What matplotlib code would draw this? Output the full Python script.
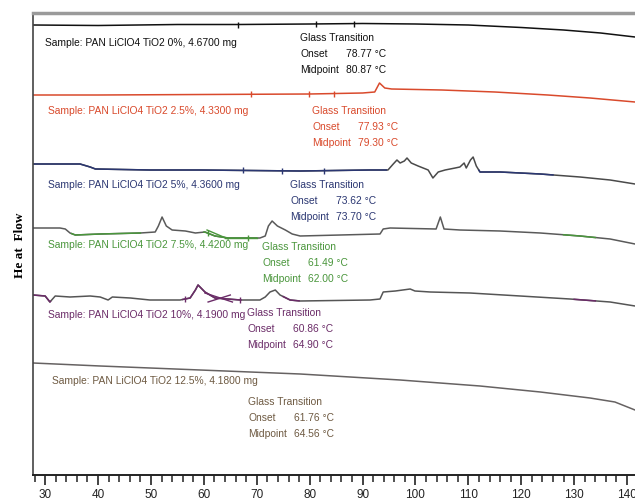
import numpy as np
import matplotlib.pyplot as plt

plt.rcParams['font.family'] = ['Liberation Sans', 'DejaVu Sans']

# DSC heat flow traces (temperature in degC, stacked heat flow in arbitrary units)
t_0 = [27.7, 40, 55, 66.4, 80, 90, 100, 110, 120, 128, 135, 141.5]
hf_0 = [450, 449.5, 450.5, 450.5, 451, 451.5, 451, 450, 447.5, 445, 442, 438]

t_25 = [27.7, 40, 60, 80, 90, 92.3, 93.2, 94.2, 95.5, 105, 115, 125, 133, 141.5]
hf_25 = [380, 380, 380.5, 381, 382, 383, 392, 387, 386, 385, 383, 380, 377, 373]

t_5 = [27.7, 36.6, 38.5, 39.5, 49.8, 59.3, 78.2, 91.4, 94.8, 95.8, 96.5, 97.1, 97.9,
       98.4, 99.2, 100.5, 102.4, 103.3, 104.3, 105.6, 107.5, 108.4, 109.2, 109.6,
       110.4, 110.9, 111.5, 112.2, 116.0, 123.6, 131.1, 136.8, 141.5]
hf_5 = [311, 311, 308, 306, 305, 305, 304, 305, 305, 311, 315, 312, 314, 317, 312,
        309, 305, 297, 303, 305, 307, 308, 312, 307, 315, 318, 309, 303, 303, 301,
        298, 295, 291]

t_75 = [27.7, 32.8, 33.8, 34.7, 35.7, 40.4, 48.0, 50.8, 51.4, 52.1, 52.9, 54.0, 56.5,
        58.4, 60.2, 62.1, 64.6, 66.9, 70.6, 71.6, 72.2, 72.9, 73.9, 75.4, 76.7, 78.2,
        85.8, 93.3, 93.9, 95.2, 103.9, 104.7, 105.4, 108.4, 116.0, 123.6, 131.1,
        136.8, 141.5]
hf_75 = [247, 247, 246, 242, 240, 241, 242, 243, 249, 258, 249, 245, 244, 242, 243,
         239, 237, 237, 237, 239, 249, 254, 249, 245, 241, 239, 240, 241, 246, 247,
         246, 258, 246, 245, 244, 242, 239, 236, 231]

t_10 = [27.7, 30.0, 30.9, 31.9, 34.7, 38.5, 40.4, 41.9, 42.7, 46.1, 49.8, 55.5, 57.4,
        58.4, 58.9, 60.2, 62.1, 66.9, 70.6, 71.6, 72.5, 73.5, 74.4, 76.3, 78.2, 91.4,
        93.3, 93.9, 96.2, 99.0, 99.9, 102.8, 110.3, 119.8, 129.2, 136.8, 141.5]
hf_10 = [180, 179, 173, 179, 178, 179, 178, 175, 178, 177, 175, 175, 177, 185, 190,
         183, 177, 175, 175, 178, 183, 185, 180, 175, 174, 175, 176, 183, 184, 186,
         184, 183, 182, 179, 176, 173, 169]

t_125 = [27.7, 40.4, 59.3, 78.2, 97.1, 112.2, 123.6, 133.0, 137.7, 141.5]
hf_125 = [112, 109, 105, 101, 95, 89, 83, 77, 73, 65]

samples = ['0%, 4.6700 mg', '2.5%, 4.3300 mg', '5%, 4.3600 mg',
           '7.5%, 4.4200 mg', '10%, 4.1900 mg', '12.5%, 4.1800 mg']
onsets = [78.77, 77.93, 73.62, 61.49, 60.86, 61.76]
midpoints = [80.87, 79.30, 73.70, 62.00, 64.90, 64.56]
colors = ['#111111', '#d94a2c', '#2b3772', '#4a963c', '#6b2c68', '#6e5a42']

# analysis markers placed on each trace
marks = [[66.4, 81.2, 88.3], [68.9, 79.9, 84.6], [67.4, 74.8, 82.8],
         [60.8, 68.4], [56.5, 66.9], []]

# tangent lines drawn by the analysis software
tang_75 = [([60.6, 64.6], [245, 236]), ([64.0, 70.0], [237, 237])]
tang_10 = [([60.2, 65.4], [182, 173]), ([60.8, 65.0], [173, 180])]

traces = [(t_0, hf_0), (t_25, hf_25), (t_5, hf_5),
          (t_75, hf_75), (t_10, hf_10), (t_125, hf_125)]
base_colors = [colors[0], colors[1], '#4a4a4a', '#5a5a5a', '#555555', '#666262']
overlays = [[], [], [(27.7, 94.5), (112, 126)],
            [(35, 48), (60, 70), (128, 134)],
            [(27.7, 31), (56, 67), (75, 78), (130, 134)], []]

# label and glass transition block anchors (T, heat flow)
label_pos = [(30.0, 432), (30.6, 364), (30.6, 290), (30.6, 230), (30.6, 160), (31.3, 94)]
glass_pos = [(78.2, 437), (80.5, 364), (76.3, 290), (71.0, 228), (68.2, 162), (68.4, 73)]


def segment(t, y, a, b):
    t = np.asarray(t, float)
    y = np.asarray(y, float)
    inside = (t > a) & (t < b)
    ts = np.concatenate([[a], t[inside], [b]])
    return ts, np.interp(ts, t, y)


fig = plt.figure(figsize=(6.35, 5.04), dpi=100)
ax = fig.add_axes([33 / 635, 29 / 504, 1 - 33 / 635, 462 / 504])

for i, (t, y) in enumerate(traces):
    ax.plot(t, y, color=base_colors[i], lw=1.1, solid_joinstyle='round')
    for a, b in overlays[i]:
        ts, ys = segment(t, y, a, b)
        ax.plot(ts, ys, color=colors[i], lw=1.1)
    if marks[i]:
        ax.plot(marks[i], np.interp(marks[i], t, y), ls='none', marker='|',
                ms=5, mew=1.0, color=colors[i])

for xs, ys in tang_75:
    ax.plot(xs, ys, color=colors[3], lw=1.0)
for xs, ys in tang_10:
    ax.plot(xs, ys, color=colors[4], lw=1.0)

fs = 7.4
for i in range(6):
    lx, ly = label_pos[i]
    ax.text(lx, ly, 'Sample: PAN LiClO4 TiO2 ' + samples[i], color=colors[i],
            fontsize=fs, va='center', ha='left')
    gx, gy = glass_pos[i]
    ax.text(gx, gy, 'Glass Transition', color=colors[i], fontsize=fs, va='center')
    ax.text(gx, gy - 16, 'Onset', color=colors[i], fontsize=fs, va='center')
    ax.text(gx + 8.6, gy - 16, f'{onsets[i]:.2f} \u00b0C', color=colors[i],
            fontsize=fs, va='center')
    ax.text(gx, gy - 32, 'Midpoint', color=colors[i], fontsize=fs, va='center')
    ax.text(gx + 8.6, gy - 32, f'{midpoints[i]:.2f} \u00b0C', color=colors[i],
            fontsize=fs, va='center')

ax.set_xlim(27.7, 141.5)
ax.set_ylim(0, 462)
ax.set_xticks(np.arange(30, 141, 10))
ax.set_xticks(np.arange(28, 142, 2), minor=True)
ax.tick_params(axis='x', which='major', direction='out', length=7, width=1.2,
               labelsize=8.5, pad=3, colors='#222222')
ax.tick_params(axis='x', which='minor', direction='out', length=5, width=1.1,
               colors='#222222')
ax.set_yticks([])
ax.spines['right'].set_visible(False)
ax.spines['top'].set_color('#9a9a9a')
ax.spines['top'].set_linewidth(2.5)
ax.spines['left'].set_color('#444444')
ax.spines['left'].set_linewidth(1.2)
ax.spines['bottom'].set_color('#222222')
ax.spines['bottom'].set_linewidth(1.4)

fig.text(20 / 635, 1 - 245 / 504, 'He at  Flow', rotation=90, ha='center', va='center',
         fontsize=9.5, fontweight='bold', family=['Liberation Serif', 'DejaVu Serif'])

fig.savefig('out.png', dpi=100)
